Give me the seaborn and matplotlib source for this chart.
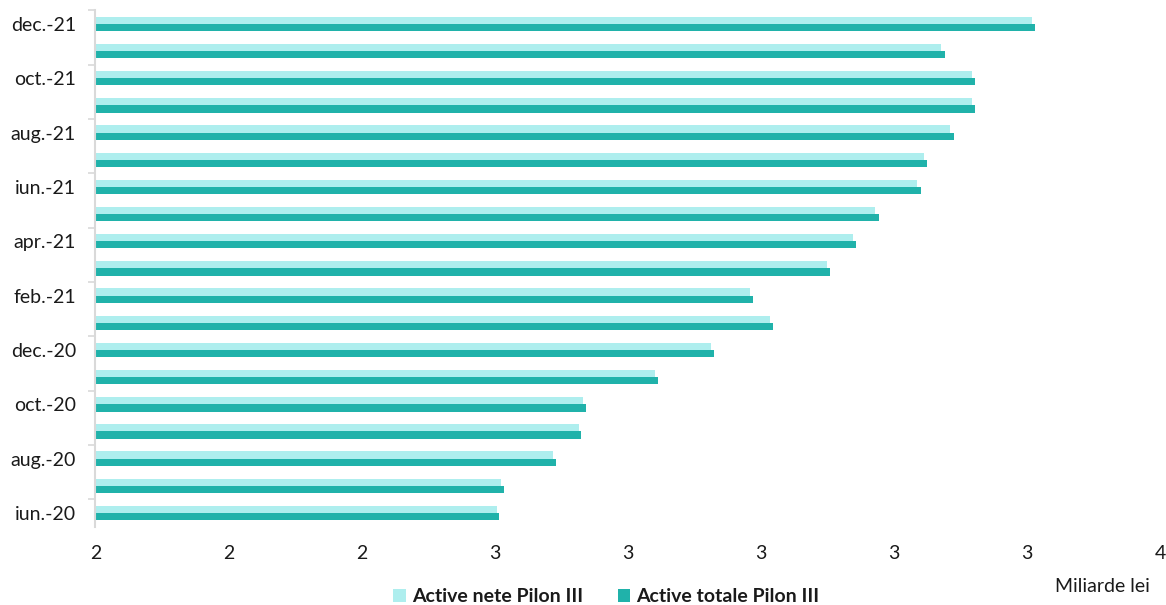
import matplotlib
matplotlib.use("Agg")
import matplotlib.pyplot as plt
import pandas as pd
import seaborn as sns
from matplotlib.ticker import FixedLocator, FuncFormatter
from matplotlib.patches import Patch

# Monthly assets of voluntary pension funds (Pilon III), newest first
months = ["dec.-21", "nov.-21", "oct.-21", "sept.-21", "aug.-21", "iul.-21",
          "iun.-21", "mai-21", "apr.-21", "mar.-21", "feb.-21", "ian.-21",
          "dec.-20", "nov.-20", "oct.-20", "sept.-20", "aug.-20", "iul.-20",
          "iun.-20"]
active_nete = [3.407, 3.271, 3.317, 3.317, 3.285, 3.245, 3.234, 3.172, 3.138,
               3.099, 2.984, 3.014, 2.925, 2.841, 2.733, 2.726, 2.688, 2.610,
               2.603]
active_totale = [3.412, 3.277, 3.322, 3.322, 3.291, 3.250, 3.240, 3.177, 3.143,
                 3.104, 2.988, 3.018, 2.930, 2.846, 2.737, 2.730, 2.692, 2.614,
                 2.607]
series_names = ["Active nete Pilon III", "Active totale Pilon III"]
labelled_months = ["dec.-21", "oct.-21", "aug.-21", "iun.-21", "apr.-21",
                   "feb.-21", "dec.-20", "oct.-20", "aug.-20", "iun.-20"]
x_ticks = [2.0, 2.2, 2.4, 2.6, 2.8, 3.0, 3.2, 3.4, 3.6]
unit_label = "Miliarde lei"

colors = ["#AEEEEE", "#20B2AA"]
text_color = "#1A1A1A"
fs = 14

df = pd.DataFrame({
    "luna": months * 2,
    "valoare": active_nete + active_totale,
    "serie": [series_names[0]] * len(months) + [series_names[1]] * len(months),
})

sns.set_style("white")
plt.rcParams["font.family"] = ["Lato", "DejaVu Sans"]

fig = plt.figure(figsize=(11.66, 6.05), dpi=100)
ax = fig.add_axes([0.0819, 0.1296, 0.9130, 0.8534])

sns.barplot(data=df, x="valoare", y="luna", hue="serie", order=months,
            hue_order=series_names, palette=colors, orient="h", width=0.53,
            dodge=True, legend=False, ax=ax, saturation=1)

for patch in ax.patches:
    patch.set_edgecolor("none")

ax.set_xlim(x_ticks[0], x_ticks[-1])
ax.set_ylim(len(months) - 0.5, -0.5)

# x axis: rounded tick labels, no spine
ax.xaxis.set_major_locator(FixedLocator(x_ticks))
ax.xaxis.set_major_formatter(FuncFormatter(lambda v, p: f"{v:.0f}"))
ax.tick_params(axis="x", length=0, pad=13, labelsize=fs, colors=text_color)

# y axis: every other month labelled, tick marks between category pairs
pos = [months.index(m) for m in labelled_months]
ax.yaxis.set_major_locator(FixedLocator(pos))
ax.set_yticklabels(labelled_months)
ax.yaxis.set_minor_locator(FixedLocator([i + 0.5 for i in range(-1, len(months), 2)]))
ax.tick_params(axis="y", which="major", length=0, pad=14, labelsize=fs,
               colors=text_color)
ax.tick_params(axis="y", which="minor", left=True, length=5, width=1.2,
               color="#D9D9D9")

for side in ["top", "right", "bottom"]:
    ax.spines[side].set_visible(False)
ax.spines["left"].set_color("#D9D9D9")
ax.spines["left"].set_linewidth(1.5)

ax.set_xlabel("")
ax.set_ylabel("")
ax.grid(False)

handles = [Patch(facecolor=c, edgecolor="none") for c in colors]
fig.legend(handles, series_names, loc="center", bbox_to_anchor=(0.520, 0.014),
           ncol=2, frameon=False, handlelength=0.65, handleheight=0.65,
           handletextpad=0.3, columnspacing=1.8, labelcolor=text_color,
           prop={"weight": "bold", "size": fs})

fig.text(0.9452, 0.030, unit_label, ha="center", va="center", fontsize=fs,
         color=text_color)

fig.savefig("out.png", dpi=100)
